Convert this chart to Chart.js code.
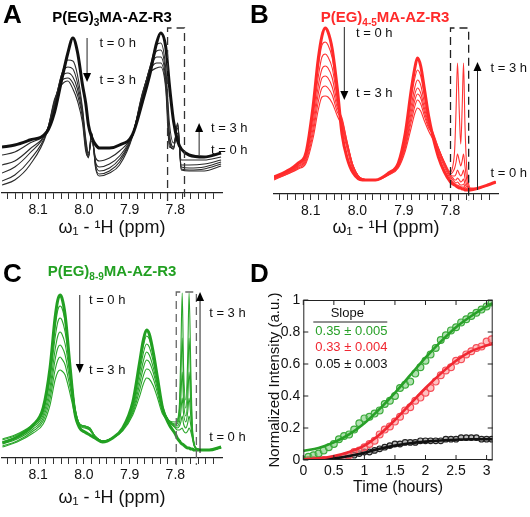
<!DOCTYPE html>
<html><head><meta charset="utf-8">
<script src="https://cdn.jsdelivr.net/npm/chart.js@4/dist/chart.umd.min.js"></script>
<style>
html,body{margin:0;padding:0;background:#fff;}
#wrap{position:relative;width:530px;height:517px;overflow:hidden;font-family:"Liberation Sans",Arial,sans-serif;}
canvas{position:absolute;}
.lt{position:absolute;font-weight:bold;font-size:26px;line-height:26px;color:#000;}
.tt{position:absolute;font-weight:bold;font-size:15px;white-space:nowrap;transform:translate(-50%,-50%);}
.tt sub{font-size:10px;vertical-align:baseline;position:relative;top:4px;}
</style></head>
<body><div id="wrap">
<canvas id="cA" width="255" height="252" style="left:0;top:0"></canvas>
<canvas id="cB" width="268" height="252" style="left:262px;top:0"></canvas>
<canvas id="cC" width="255" height="257" style="left:0;top:260px"></canvas>
<canvas id="cD" width="265" height="257" style="left:265px;top:260px"></canvas>
<div class="lt" style="left:3px;top:1px">A</div>
<div class="lt" style="left:250px;top:1px">B</div>
<div class="lt" style="left:3px;top:260px">C</div>
<div class="lt" style="left:250px;top:260px">D</div>
<div class="tt" style="left:112px;top:16px;color:#000">P(EG)<sub>3</sub>MA-AZ-R3</div>
<div class="tt" style="left:385px;top:16px;color:#ff2a2a">P(EG)<sub>4-5</sub>MA-AZ-R3</div>
<div class="tt" style="left:112px;top:270px;color:#22a022">P(EG)<sub>8-9</sub>MA-AZ-R3</div>
</div>
<script>
// ---------- Panel A (ppm axis and traces, heights above baseline) ----------
const ppmA = [8.179, 8.151, 8.118, 8.081, 8.064, 8.049, 8.035, 8.024, 8.014, 8.003, 7.996, 7.990, 7.983, 7.974, 7.966, 7.944, 7.922, 7.894, 7.872, 7.856, 7.841, 7.832, 7.821, 7.813, 7.804, 7.795, 7.787, 7.770, 7.737, 7.700];
const specA0 = [46, 48, 53, 61, 81, 112, 140, 155, 141, 108, 90, 68, 56, 48, 45, 45, 48, 58, 91, 118, 150, 160, 146, 108, 72, 52, 44, 38, 36, 40];
const specA1 = [38, 41, 50, 62, 85, 118, 133, 132, 118, 85, 55, 40, 52, 35, 32, 35, 42, 58, 95, 125, 148, 150, 125, 70, 50, 60, 33, 33, 33, 36];
const specA2 = [28, 32, 44, 62, 88, 118, 126, 124, 110, 82, 52, 38, 55, 30, 26, 29, 37, 58, 97, 125, 142, 143, 118, 60, 46, 65, 28, 28, 29, 33];
const specA3 = [20, 26, 40, 62, 90, 116, 120, 116, 104, 78, 48, 36, 58, 28, 22, 25, 34, 57, 98, 124, 136, 136, 113, 55, 44, 68, 26, 25, 26, 31];
const specA4 = [12, 18, 33, 61, 92, 112, 115, 110, 98, 75, 45, 35, 60, 25, 19, 22, 31, 57, 99, 122, 130, 130, 108, 50, 44, 70, 24, 23, 24, 29];
const specA5 = [8, 13, 28, 60, 94, 108, 112, 104, 92, 70, 42, 36, 60, 24, 17, 20, 28, 56, 100, 120, 125, 126, 104, 46, 45, 70, 23, 22, 22, 27];

// ---------- Panel B ----------
const ppmB = [8.179, 8.155, 8.127, 8.110, 8.095, 8.084, 8.076, 8.069, 8.063, 8.054, 8.043, 8.033, 8.022, 8.009, 7.989, 7.961, 7.933, 7.912, 7.897, 7.884, 7.877, 7.871, 7.864, 7.856, 7.847, 7.838, 7.826, 7.813, 7.800, 7.795, 7.791, 7.788, 7.785, 7.781, 7.778, 7.775, 7.772, 7.769, 7.765, 7.761, 7.757, 7.739, 7.720, 7.703];
const specB0 = [17, 22, 31, 42, 88, 135, 158, 166, 162, 145, 105, 60, 36, 21, 14, 14, 21, 31, 61, 105, 125, 136, 128, 105, 78, 58, 37, 22, 12, 10, 9, 8, 7, 6, 6, 5, 5, 4, 4, 4, 4, 6, 9, 12];
const specB1 = [17, 21, 30, 41, 84, 127, 149, 152, 149, 136, 100, 68, 45, 24, 15, 14, 21, 31, 57, 97, 115, 124, 118, 98, 76, 60, 42, 27, 15, 12, 10, 9, 9, 8, 7, 7, 7, 5, 4, 4, 4, 6, 9, 12];
const specB2 = [16, 21, 29, 39, 78, 117, 137, 140, 137, 126, 95, 70, 48, 26, 15, 14, 20, 30, 53, 89, 106, 114, 109, 91, 72, 60, 44, 29, 17, 14, 12, 11, 12, 10, 9, 9, 10, 7, 5, 4, 4, 6, 9, 12];
const specB3 = [16, 20, 28, 37, 72, 108, 125, 128, 126, 116, 90, 72, 50, 27, 15, 14, 20, 29, 50, 83, 99, 106, 101, 86, 70, 59, 45, 30, 18, 16, 14, 14, 16, 14, 12, 13, 15, 10, 7, 5, 5, 6, 9, 12];
const specB4 = [15, 20, 27, 35, 66, 100, 116, 118, 116, 107, 86, 76, 52, 28, 15, 14, 20, 28, 48, 78, 93, 100, 96, 82, 68, 62, 46, 31, 19, 18, 18, 20, 24, 20, 18, 20, 24, 16, 9, 6, 5, 6, 9, 12];
const specB5 = [15, 19, 26, 33, 61, 92, 106, 108, 106, 99, 82, 74, 52, 28, 15, 14, 19, 27, 46, 73, 87, 94, 90, 78, 66, 60, 46, 31, 20, 22, 26, 32, 40, 33, 28, 33, 40, 28, 14, 7, 5, 6, 9, 12];
const specB6 = [14, 19, 25, 31, 56, 84, 97, 98, 97, 91, 78, 68, 50, 28, 15, 14, 19, 26, 43, 67, 80, 86, 83, 73, 63, 55, 45, 32, 22, 28, 45, 85, 131, 80, 50, 85, 131, 70, 25, 10, 6, 6, 9, 12];

// ---------- Panel C ----------
const ppmC = [8.178, 8.146, 8.111, 8.089, 8.074, 8.063, 8.057, 8.052, 8.048, 8.041, 8.030, 8.020, 8.009, 7.998, 7.987, 7.976, 7.959, 7.937, 7.915, 7.893, 7.878, 7.870, 7.863, 7.857, 7.848, 7.839, 7.828, 7.813, 7.800, 7.796, 7.791, 7.788, 7.785, 7.782, 7.777, 7.773, 7.770, 7.766, 7.763, 7.759, 7.752, 7.726, 7.700];
const specC0 = [15, 21, 33, 50, 90, 140, 158, 163, 160, 143, 90, 46, 30, 26, 23, 20, 16, 20, 30, 56, 96, 118, 128, 124, 105, 80, 50, 33, 24, 20, 17, 15, 14, 13, 11, 10, 10, 9, 9, 8, 8, 8, 11];
const specC1 = [19, 24, 34, 48, 84, 130, 148, 152, 150, 136, 92, 52, 34, 32, 30, 22, 17, 20, 30, 54, 92, 112, 122, 119, 102, 80, 52, 36, 30, 28, 28, 29, 30, 27, 25, 27, 30, 26, 20, 12, 9, 8, 11];
const specC2 = [18, 23, 33, 46, 78, 120, 136, 140, 138, 126, 88, 52, 34, 32, 30, 22, 17, 20, 29, 52, 86, 105, 114, 111, 96, 76, 50, 36, 31, 30, 32, 36, 42, 34, 30, 35, 42, 32, 22, 13, 9, 8, 11];
const specC3 = [16, 21, 31, 43, 71, 108, 122, 126, 124, 114, 82, 50, 34, 32, 29, 22, 17, 20, 29, 49, 80, 97, 106, 103, 90, 72, 49, 37, 32, 32, 36, 46, 60, 44, 36, 46, 60, 40, 24, 13, 9, 8, 11];
const specC4 = [14, 19, 29, 40, 65, 98, 110, 113, 111, 103, 76, 48, 33, 31, 29, 22, 17, 20, 28, 47, 74, 90, 98, 96, 85, 69, 48, 37, 33, 34, 42, 60, 86, 56, 42, 58, 86, 52, 27, 14, 9, 8, 10];
const specC5 = [12, 17, 27, 37, 59, 88, 98, 101, 99, 93, 70, 46, 33, 31, 28, 21, 17, 20, 28, 45, 68, 82, 89, 88, 79, 65, 46, 37, 34, 36, 48, 80, 120, 72, 50, 76, 120, 66, 30, 14, 9, 8, 10];
const specC6 = [11, 16, 25, 34, 53, 78, 86, 88, 87, 83, 64, 44, 32, 30, 28, 21, 17, 20, 27, 43, 62, 74, 80, 79, 72, 60, 44, 37, 36, 38, 55, 105, 165, 90, 58, 100, 165, 85, 34, 15, 9, 8, 10];

// ---------- Panel D ----------
const timeH = [0, 0.083, 0.167, 0.25, 0.333, 0.417, 0.5, 0.583, 0.667, 0.75, 0.833, 0.917, 1.0, 1.083, 1.167, 1.25, 1.333, 1.417, 1.5, 1.583, 1.667, 1.75, 1.833, 1.917, 2.0, 2.083, 2.167, 2.25, 2.333, 2.417, 2.5, 2.583, 2.667, 2.75, 2.833, 2.917, 3.0, 3.083];
const greenPts = [0.00, 0.02, 0.03, 0.04, 0.06, 0.08, 0.10, 0.13, 0.15, 0.16, 0.19, 0.23, 0.26, 0.27, 0.29, 0.31, 0.35, 0.37, 0.40, 0.45, 0.47, 0.49, 0.54, 0.58, 0.62, 0.66, 0.70, 0.75, 0.78, 0.81, 0.83, 0.86, 0.88, 0.90, 0.92, 0.94, 0.96, 0.985];
const redPts = [0.0, 0.0, 0.0, 0.0, 0.0, 0.0, 0.0, 0.01, 0.02, 0.03, 0.05, 0.06, 0.08, 0.10, 0.12, 0.16, 0.19, 0.21, 0.24, 0.27, 0.31, 0.33, 0.37, 0.39, 0.42, 0.45, 0.49, 0.53, 0.56, 0.58, 0.62, 0.63, 0.66, 0.68, 0.70, 0.71, 0.74, 0.755];
const blackPts = [0.0, 0.0, 0.0, 0.0, 0.0, 0.0, 0.0, 0.01, 0.02, 0.03, 0.03, 0.04, 0.05, 0.05, 0.06, 0.07, 0.08, 0.09, 0.10, 0.10, 0.11, 0.11, 0.11, 0.12, 0.12, 0.12, 0.12, 0.12, 0.13, 0.13, 0.13, 0.14, 0.14, 0.14, 0.14, 0.13, 0.13, 0.13];
const fitT = [0, 0.25, 0.5, 0.75, 1.0, 1.25, 1.5, 1.75, 2.0, 2.25, 2.5, 2.75, 3.0, 3.1];
const greenFit = [0.057, 0.075, 0.11, 0.16, 0.23, 0.32, 0.42, 0.53, 0.64, 0.74, 0.83, 0.90, 0.96, 0.98];
const redFit = [0.005, 0.01, 0.025, 0.05, 0.09, 0.16, 0.25, 0.35, 0.45, 0.54, 0.62, 0.68, 0.715, 0.725];
const blackFit = [0.0, 0.002, 0.01, 0.025, 0.045, 0.07, 0.09, 0.105, 0.115, 0.122, 0.127, 0.13, 0.13, 0.13];
const slopeLabels = ['0.35 \u00b1 0.005', '0.33 \u00b1 0.004', '0.05 \u00b1 0.003'];

const FONT = '"Liberation Sans", Arial, sans-serif';
Chart.defaults.font.family = FONT;
Chart.defaults.color = '#111';

const annotPlugin = {
  id: 'annot',
  afterDatasetsDraw(chart, args, o) {
    if (!o || !o.box) return;
    const ctx = chart.ctx, xs = chart.scales.x, ys = chart.scales.y;
    ctx.save();
    const x1 = xs.getPixelForValue(o.box[0]), x2 = xs.getPixelForValue(o.box[1]);
    const yt = ys.getPixelForValue(o.box[2]), yb = ys.getPixelForValue(o.box[3]);
    ctx.setLineDash([8, 5]); ctx.strokeStyle = o.boxColor; ctx.lineWidth = 1.3;
    ctx.beginPath(); ctx.moveTo(x1, yb); ctx.lineTo(x1, yt); ctx.lineTo(x2, yt); ctx.lineTo(x2, yb); ctx.stroke();
    ctx.setLineDash([]);
    o.arrows.forEach(a => {
      const x = xs.getPixelForValue(a.x), y1 = ys.getPixelForValue(a.from), y2 = ys.getPixelForValue(a.to);
      const d = y2 > y1 ? 1 : -1;
      ctx.strokeStyle = '#222'; ctx.lineWidth = 1;
      ctx.beginPath(); ctx.moveTo(x, y1); ctx.lineTo(x, y2 - d * 8); ctx.stroke();
      ctx.fillStyle = '#000';
      ctx.beginPath(); ctx.moveTo(x - 4, y2 - d * 9); ctx.lineTo(x + 4, y2 - d * 9); ctx.lineTo(x, y2); ctx.closePath(); ctx.fill();
    });
    ctx.font = '13px ' + FONT; ctx.fillStyle = '#111'; ctx.textBaseline = 'middle'; ctx.textAlign = 'left';
    o.texts.forEach(t => ctx.fillText(t.s, xs.getPixelForValue(t.x), ys.getPixelForValue(t.y)));
    ctx.restore();
  }
};
Chart.register(annotPlugin);

function spectrum(id, ppm, traces, thick, thin, yMax, padL, padR, xH, titlePad, annot) {
  const datasets = traces.map((arr, i) => ({
    data: ppm.map((x, j) => ({x: x, y: arr[j]})),
    borderColor: i === 0 ? thick : thin,
    borderWidth: i === 0 ? 3 : 1.1,
    pointRadius: 0,
    cubicInterpolationMode: 'monotone',
    fill: false
  }));
  return new Chart(document.getElementById(id), {
    type: 'line',
    data: {datasets},
    options: {
      responsive: false, animation: false, events: [],
      layout: {padding: {left: padL, right: padR, top: 0, bottom: 0}},
      plugins: {legend: {display: false}, tooltip: {enabled: false}, annot: annot},
      scales: {
        x: {
          type: 'linear', reverse: true, min: 7.698, max: 8.179,
          afterBuildTicks: s => {
            const t = [];
            for (let k = Math.ceil(s.min * 60 + 0.2); k <= Math.floor(s.max * 60 + 1e-9); k++) t.push({value: k / 60});
            s.ticks = t;
          },
          afterFit: s => { s.height = xH; },
          ticks: {
            autoSkip: false, maxRotation: 0, minRotation: 0, padding: 3, font: {size: 14}, color: '#111',
            callback: v => { const r = Math.round(v * 10); return Math.abs(v * 10 - r) < 1e-6 ? (r / 10).toFixed(1) : ''; }
          },
          grid: {drawOnChartArea: false, drawTicks: true, tickLength: 6, color: '#333', lineWidth: 1},
          border: {display: true, color: '#222', width: 1.2},
          title: {display: true, text: '\u03c9\u2081 - \u00b9H (ppm)', font: {size: 18}, color: '#111', padding: {top: 0, bottom: titlePad}}
        },
        y: {display: false, min: 0, max: yMax}
      }
    }
  });
}

spectrum('cA', ppmA, [specA0, specA1, specA2, specA3, specA4, specA5], '#111', '#2a2a2a', 193, 2, 33, 59, 13, {
  box: [7.817, 7.780, 165, -8], boxColor: '#333',
  arrows: [{x: 7.993, from: 155, to: 111}, {x: 7.748, from: 38, to: 70}],
  texts: [{s: 't = 0 h', x: 7.966, y: 150}, {s: 't = 3 h', x: 7.966, y: 113}, {s: 't = 3 h', x: 7.722, y: 65}, {s: 't = 0 h', x: 7.722, y: 43}]
});
spectrum('cB', ppmB, [specB0, specB1, specB2, specB3, specB4, specB5, specB6], '#ff2a2a', '#ff3333', 194, 12, 32, 58, 13, {
  box: [7.800, 7.761, 166, -7], boxColor: '#222',
  arrows: [{x: 8.028, from: 167, to: 94}, {x: 7.742, from: 4, to: 132}],
  texts: [{s: 't = 0 h', x: 8.003, y: 161}, {s: 't = 3 h', x: 8.003, y: 101}, {s: 't = 3 h', x: 7.714, y: 126}, {s: 't = 0 h', x: 7.714, y: 21}]
});
spectrum('cC', ppmC, [specC0, specC1, specC2, specC3, specC4, specC5, specC6], '#22a022', '#2aa62a', 198, 2, 33, 59, 8, {
  box: [7.798, 7.754, 166, -7], boxColor: '#666',
  arrows: [{x: 8.009, from: 163, to: 85}, {x: 7.746, from: 5, to: 166}],
  texts: [{s: 't = 0 h', x: 7.989, y: 158}, {s: 't = 3 h', x: 7.989, y: 88}, {s: 't = 3 h', x: 7.726, y: 145}, {s: 't = 0 h', x: 7.726, y: 21}]
});

// ---------- Panel D chart ----------
const G = 'rgb(40,160,40)', R = 'rgb(240,40,50)', K = '#111';
const fmtNum = v => String(Math.round(v * 10) / 10);
const frameD = {
  id: 'frameD',
  afterDraw(chart) {
    const {ctx, chartArea: a, scales: {x, y}} = chart;
    ctx.save();
    ctx.strokeStyle = '#222'; ctx.lineWidth = 1;
    ctx.strokeRect(a.left + 0.5, a.top + 0.5, a.right - a.left - 1, a.bottom - a.top - 1);
    ctx.beginPath();
    x.ticks.forEach(t => { const p = x.getPixelForValue(t.value); ctx.moveTo(p, a.bottom); ctx.lineTo(p, a.bottom - 5); ctx.moveTo(p, a.top); ctx.lineTo(p, a.top + 5); });
    y.ticks.forEach(t => { const p = y.getPixelForValue(t.value); ctx.moveTo(a.left, p); ctx.lineTo(a.left + 5, p); ctx.moveTo(a.right, p); ctx.lineTo(a.right - 5, p); });
    ctx.stroke();
    // slope legend
    const lx = a.left + 12, ty = a.top;
    ctx.font = '13px ' + FONT; ctx.textBaseline = 'middle';
    ctx.textAlign = 'center'; ctx.fillStyle = '#111';
    ctx.fillText('Slope', a.left + 44, ty + 13);
    ctx.beginPath(); ctx.moveTo(a.left + 10, ty + 22); ctx.lineTo(a.left + 84, ty + 22); ctx.stroke();
    ctx.textAlign = 'left';
    [G, R, K].forEach((c, i) => { ctx.fillStyle = c; ctx.fillText(slopeLabels[i], lx, ty + 31 + i * 16.5); });
    ctx.restore();
  }
};
const pts = (arr) => timeH.map((t, i) => ({x: t, y: arr[i]}));
const fit = (arr) => fitT.map((t, i) => ({x: t, y: arr[i]}));
new Chart(document.getElementById('cD'), {
  type: 'scatter',
  data: {datasets: [
    {data: fit(greenFit), showLine: true, borderColor: G, borderWidth: 2.6, pointRadius: 0, cubicInterpolationMode: 'monotone'},
    {data: fit(redFit), showLine: true, borderColor: R, borderWidth: 2.6, pointRadius: 0, cubicInterpolationMode: 'monotone'},
    {data: fit(blackFit), showLine: true, borderColor: K, borderWidth: 2.6, pointRadius: 0, cubicInterpolationMode: 'monotone'},
    {data: pts(greenPts), showLine: false, pointRadius: 3.4, borderWidth: 1.2, borderColor: 'rgb(60,170,60)', backgroundColor: 'rgba(110,200,110,0.55)'},
    {data: pts(redPts), showLine: false, pointRadius: 3.4, borderWidth: 1.2, borderColor: 'rgb(245,80,90)', backgroundColor: 'rgba(255,140,140,0.55)'},
    {data: pts(blackPts), showLine: false, pointRadius: 2.8, borderWidth: 1.2, borderColor: '#222', backgroundColor: 'rgba(120,120,120,0.5)'}
  ]},
  options: {
    responsive: false, animation: false, events: [],
    layout: {padding: {left: 0, right: 37.3, top: 40, bottom: 0}},
    plugins: {legend: {display: false}, tooltip: {enabled: false}},
    scales: {
      x: {type: 'linear', min: 0, max: 3.1,
          ticks: {stepSize: 0.5, includeBounds: false, padding: 3, font: {size: 14}, color: '#111', maxRotation: 0, callback: fmtNum},
          grid: {display: false, drawTicks: false}, border: {display: false},
          afterFit: s => { s.height = 57; },
          title: {display: true, text: 'Time (hours)', font: {size: 16}, color: '#111', padding: {top: 0, bottom: 20}}},
      y: {min: 0, max: 1,
          ticks: {stepSize: 0.2, padding: 3, font: {size: 14}, color: '#111', callback: fmtNum},
          grid: {display: false, drawTicks: false}, border: {display: false},
          afterFit: s => { s.width = 38.3; },
          title: {display: true, text: 'Normalized Intensity (a.u.)', font: {size: 15}, color: '#111', padding: {top: 1, bottom: 0}}}
    }
  },
  plugins: [frameD]
});
</script>
</body></html>
